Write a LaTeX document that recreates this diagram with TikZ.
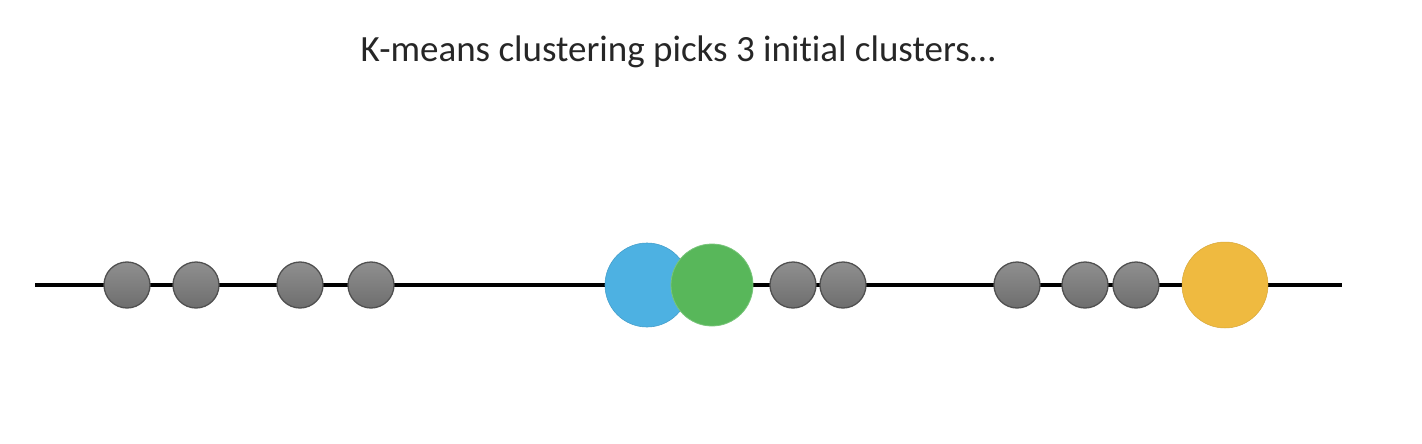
\documentclass[tikz,border=0pt]{standalone}
\usepackage{fontspec}
\setmainfont[Ligatures=NoCommon]{Carlito}
\definecolor{ptgraytop}{HTML}{8F8F8F}
\definecolor{ptgraybot}{HTML}{6E6E6E}
\definecolor{ptedge}{HTML}{505050}
\definecolor{cblue}{HTML}{4DB1E2}
\definecolor{cgreen}{HTML}{58B75A}
\definecolor{corange}{HTML}{EFBA40}
\begin{document}
\begin{tikzpicture}[x=1pt,y=-1pt,
  pt/.style={circle,draw=ptedge,line width=1.3pt,top color=ptgraytop,bottom color=ptgraybot,minimum size=46pt,inner sep=0pt},
  ctr/.style={circle,inner sep=0pt,minimum size=#1},
  axisline/.style={line width=4.5pt,black}]
\useasboundingbox (0,0) rectangle (1422,444);
\node[font=\fontsize{37}{42}\selectfont,text=black!85] (title) at (678,52) {K-means clustering picks 3 initial clusters…};
\coordinate (L) at (35,285);
\coordinate (R) at (1342,285);
\draw[axisline] (L) -- (R);
\foreach \n/\x in {a/127,b/196,c/300,d/371,e/793,f/843,g/1017,h/1085,i/1136}{
  \node[pt] (p\n) at (\x,285) {};
}
\node[ctr=84pt,fill=cblue,draw=cblue!90!black,line width=0.6pt] (blue) at (647,285) {};
\node[ctr=82pt,fill=cgreen,draw=cgreen!80!white,line width=0.8pt] (green) at (712,285) {};
\node[ctr=86pt,fill=corange,draw=corange!90!black,line width=0.5pt] (orange) at (1225,285) {};
\end{tikzpicture}
\end{document}
